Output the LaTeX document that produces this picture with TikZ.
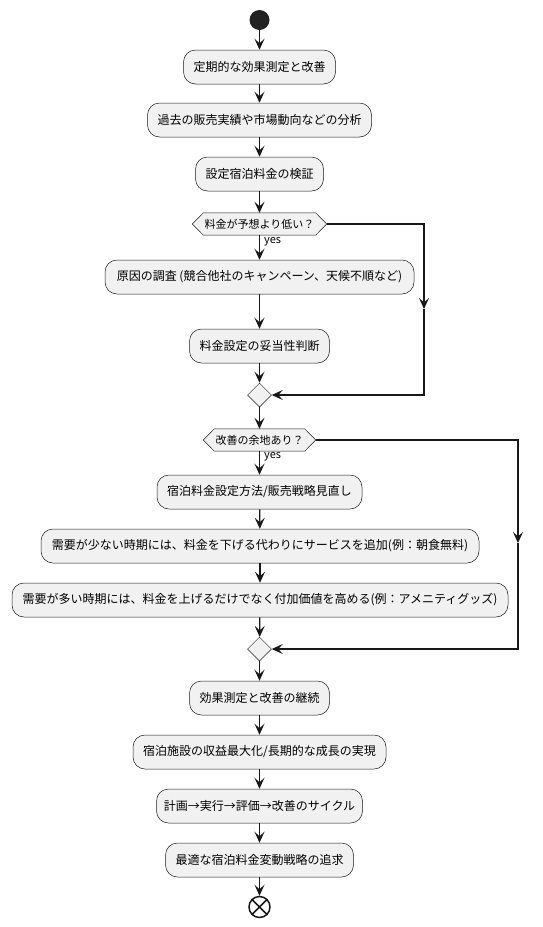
\documentclass[tikz,border=0pt]{standalone}
\usepackage{fontspec}
\setmainfont{Noto Sans CJK JP}
\usetikzlibrary{arrows.meta,shapes.geometric,backgrounds,calc}
\definecolor{boxfill}{HTML}{F1F1F1}
\definecolor{linec}{HTML}{181818}
\definecolor{startc}{HTML}{222222}
\begin{document}
\begin{tikzpicture}[x=1pt,y=-1pt,
  act/.style={draw=linec, line width=0.5pt, fill=boxfill, rounded corners=12pt,
    minimum height=34pt, inner sep=0pt, font=\fontsize{12}{14}\selectfont, text=black},
  deci/.style={minimum height=22pt, inner sep=0pt, font=\fontsize{11}{13}\selectfont, text=black},
  hexa/.style={draw=linec, line width=0.5pt, fill=boxfill},
  merge/.style={diamond, aspect=1, draw=linec, line width=0.5pt, fill=boxfill,
    minimum width=24pt, minimum height=24pt, inner sep=0pt},
  flow/.style={draw=linec, line width=1.2pt, -{Stealth[length=11pt,width=10pt,inset=4.5pt]}},
  lbl/.style={font=\fontsize{11}{13}\selectfont, anchor=west, inner sep=0pt},
  startnode/.style={circle, fill=startc, minimum size=20pt, inner sep=0pt},
  endnode/.style={circle, draw=linec, line width=1.5pt, fill=white, minimum size=21pt, inner sep=0pt}
]
\useasboundingbox (0,0) rectangle (543,927);

\node[startnode] (start) at (259.5,20) {};
\node[act, minimum width=152pt] (b1) at (259.5,67) {定期的な効果測定と改善};
\node[act, minimum width=224pt] (b2) at (259.5,120) {過去の販売実績や市場動向などの分析};
\node[act, minimum width=128pt] (b3) at (259.5,174) {設定宿泊料金の検証};
\node[deci, minimum width=134pt] (d1) at (259.5,224) {料金が予想より低い？};
\node[act, minimum width=309pt] (b4) at (259.5,277) {原因の調査 (競合他社のキャンペーン、天候不順など)};
\node[act, minimum width=140pt] (b5) at (259.5,346) {料金設定の妥当性判断};
\node[merge] (m1) at (259.5,395) {};
\node[deci, minimum width=112pt] (d2) at (259.5,440) {改善の余地あり？};
\node[act, minimum width=205pt] (b6) at (259.5,492) {宿泊料金設定方法/販売戦略見直し};
\node[act, minimum width=438pt] (b7) at (260,546) {需要が少ない時期には、料金を下げる代わりにサービスを追加(例：朝食無料)};
\node[act, minimum width=496pt] (b8) at (260,600) {需要が多い時期には、料金を上げるだけでなく付加価値を高める(例：アメニティグッズ)};
\node[merge] (m2) at (259.5,649) {};
\node[act, minimum width=140pt] (b9) at (259.5,698) {効果測定と改善の継続};
\node[act, minimum width=253pt] (b10) at (259.5,752) {宿泊施設の収益最大化/長期的な成長の実現};
\node[act, minimum width=206pt] (b11) at (259.5,806) {計画→実行→評価→改善のサイクル};
\node[act, minimum width=188pt] (b12) at (259.5,860) {最適な宿泊料金変動戦略の追求};
\node[endnode] (end) at (259.5,907) {};
\draw[linec, line width=1.5pt] (end.north west) -- (end.south east) (end.north east) -- (end.south west);

\begin{scope}[on background layer]
\foreach \d in {d1,d2}{
  \path[hexa] (\d.west) -- ($(\d.north west)+(11,0)$) -- ($(\d.north east)+(-11,0)$) -- (\d.east)
     -- ($(\d.south east)+(-11,0)$) -- ($(\d.south west)+(11,0)$) -- cycle;
}
\end{scope}

\node[lbl] (y1) at (264,242) {yes};
\node[lbl] (y2) at (264,457) {yes};

\draw[flow] (start) -- (b1);
\draw[flow] (b1) -- (b2);
\draw[flow] (b2) -- (b3);
\draw[flow] (b3) -- (d1.north);
\draw[flow] (d1.south) -- (b4);
\draw[flow] (b4) -- (b5);
\draw[flow] (b5) -- (m1);
\draw[flow] (m1) -- (d2.north);
\draw[flow] (d2.south) -- (b6);
\draw[flow] (b6) -- (b7);
\draw[flow] (b7) -- (b8);
\draw[flow] (b8) -- (m2);
\draw[flow] (m2) -- (b9);
\draw[flow] (b9) -- (b10);
\draw[flow] (b10) -- (b11);
\draw[flow] (b11) -- (b12);
\draw[flow] (b12) -- (end);

\coordinate (r1a) at (424,224);
\coordinate (r1m) at (424,309);
\coordinate (r1b) at (424,395);
\draw[flow] (d1.east) -- (r1a) -- (r1m);
\draw[flow] (r1m) -- (r1b) -- (m1.east);

\coordinate (r2a) at (518,440);
\coordinate (r2m) at (518,543);
\coordinate (r2b) at (518,649);
\draw[flow] (d2.east) -- (r2a) -- (r2m);
\draw[flow] (r2m) -- (r2b) -- (m2.east);
\end{tikzpicture}
\end{document}
